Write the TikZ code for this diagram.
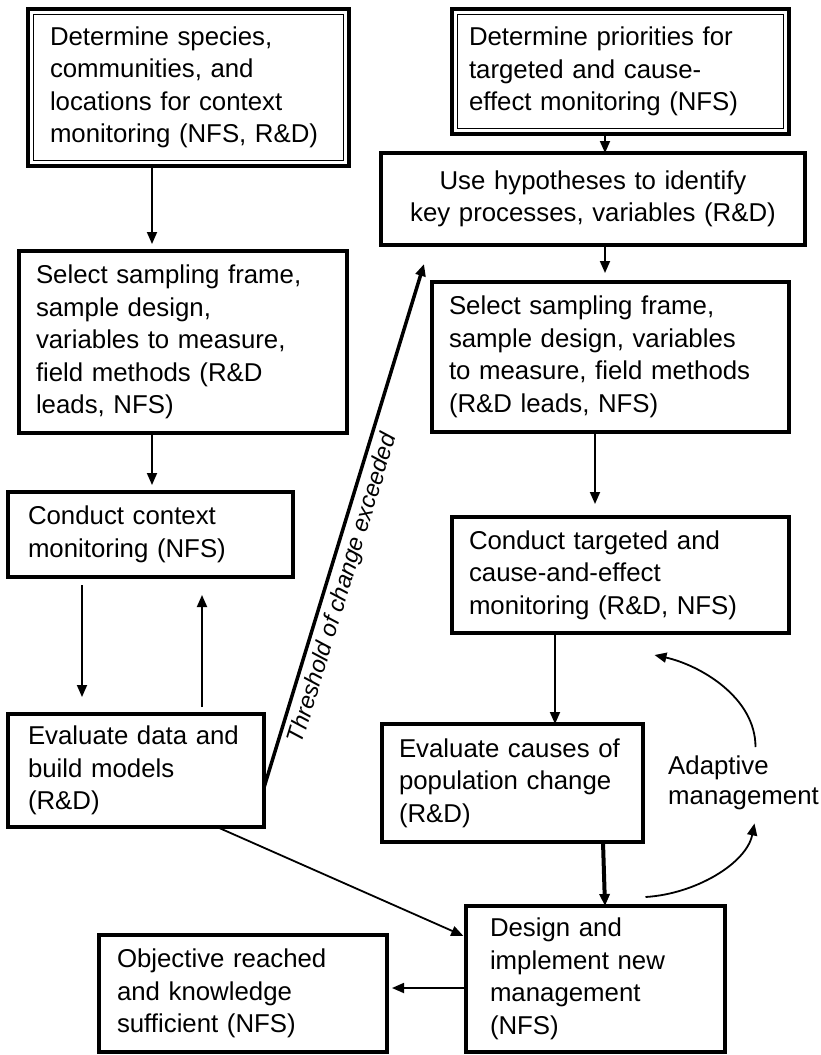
\documentclass[tikz,border=0pt]{standalone}
\usepackage{fontspec}
\setmainfont{Liberation Sans}
\usetikzlibrary{arrows.meta,calc}

\tikzset{
  box/.style={draw, line width=3.2pt, anchor=north west, outer sep=0pt,
    inner ysep=0pt, align=left, font=\fontsize{25.8}{32.5}\selectfont},
  dbox/.style={box, line width=4.5pt},
  inner rule/.style={line width=1.3pt},
  flow/.style={line width=1.8pt, -{Triangle[length=12pt,width=10pt]}},
  bold flow/.style={flow, line width=3.5pt},
}

\begin{document}
\begin{tikzpicture}[line cap=butt,line join=miter,x=1pt,y=-1pt]
    \useasboundingbox (0,0) rectangle (820,1055);

    % left column
    \node[dbox, minimum width=321pt, minimum height=157pt, text width=277pt, inner xsep=22pt] (species) at (28,9)
      {Determine species,\\communities, and\\locations for context\\monitoring (NFS, R\&D)};
    \draw[inner rule] ([shift={(5.5pt,-5.5pt)}]species.north west) rectangle ([shift={(-5.5pt,5.5pt)}]species.south east);
    \node[box, minimum width=328pt, minimum height=182pt, text width=294pt, inner xsep=17pt] (frameL) at (19,251)
      {Select sampling frame,\\sample design,\\variables to measure,\\field methods (R\&D\\leads, NFS)};
    \node[box, minimum width=285pt, minimum height=85pt, text width=245pt, inner xsep=20pt] (context) at (8,492)
      {Conduct context\\monitoring (NFS)};
    \node[box, minimum width=256pt, minimum height=113pt, text width=216pt, inner xsep=20pt] (evaluate) at (8,714)
      {Evaluate data and\\build models\\(R\&D)};
    \node[box, minimum width=288pt, minimum height=117pt, text width=252pt, inner xsep=18pt] (objective) at (99,935)
      {Objective reached\\and knowledge\\sufficient (NFS)};

    % right column
    \node[dbox, minimum width=337pt, minimum height=125pt, text width=303pt, inner xsep=17pt] (priorities) at (452,9)
      {Determine priorities for\\targeted and cause-\\effect monitoring (NFS)};
    \draw[inner rule] ([shift={(5.5pt,-5.5pt)}]priorities.north west) rectangle ([shift={(-5.5pt,5.5pt)}]priorities.south east);
    \node[box, align=center, minimum width=424pt, minimum height=92pt, text width=390pt, inner xsep=17pt] (hypo) at (381,153)
      {Use hypotheses to identify\\key processes, variables (R\&D)};
    \node[box, minimum width=357pt, minimum height=150pt, text width=323pt, inner xsep=17pt] (frameR) at (432,282)
      {Select sampling frame,\\sample design, variables\\to measure, field methods\\(R\&D leads, NFS)};
    \node[box, minimum width=337pt, minimum height=116pt, text width=303pt, inner xsep=17pt] (targeted) at (452,517)
      {Conduct targeted and\\cause-and-effect\\monitoring (R\&D, NFS)};
    \node[box, minimum width=261pt, minimum height=118pt, text width=227pt, inner xsep=17pt] (causes) at (382,724)
      {Evaluate causes of\\population change\\(R\&D)};
    \node[box, minimum width=259pt, minimum height=146pt, text width=211pt, inner xsep=24pt] (design) at (466,906)
      {Design and\\implement new\\management\\(NFS)};
    \node[anchor=north west, inner sep=0pt, align=left, font=\fontsize{25.8}{30}\selectfont] (adapt) at (668,756)
      {Adaptive\\management};

    % context monitoring loop
    \draw[flow, shorten >=7pt] ([xshift=124pt]species.south west) -- ([xshift=124pt]species.south west |- frameL.north);
    \draw[flow, shorten >=7pt] ([xshift=133pt]frameL.south west) -- ([xshift=133pt]frameL.south west |- context.north);
    \draw[flow, shorten <=8pt, shorten >=17pt] ([xshift=74pt]context.south west) -- ([xshift=74pt]evaluate.north west);
    \draw[flow, shorten <=7pt, shorten >=18pt] ([xshift=194pt]evaluate.north west) -- ([xshift=194pt]context.south west);
    \draw[bold flow] ([yshift=-17pt]evaluate.east) -- ([shift={(43pt,-19pt)}]hypo.south west)
      node[pos=0.39, sloped, below, inner sep=5pt, font=\fontsize{23.5}{28}\selectfont\itshape] {Threshold of change exceeded};
    \draw[flow, shorten >=3pt] ([xshift=209pt]evaluate.south west) -- ([yshift=-31pt]design.north west);
    \draw[flow, shorten >=5pt] ([yshift=-9pt]design.west) -- ([yshift=-9pt]design.west -| objective.east);

    % targeted monitoring chain
    \draw[flow] ([xshift=153pt]priorities.south west) -- ([xshift=153pt]priorities.south west |- hypo.north);
    \draw[flow, shorten >=9pt] ([xshift=224pt]hypo.south west) -- ([xshift=224pt]hypo.south west |- frameR.north);
    \draw[flow, shorten >=13pt] ([xshift=163pt]frameR.south west) -- ([xshift=163pt]frameR.south west |- targeted.north);
    \draw[flow] ([xshift=103pt]targeted.south west) -- ([xshift=103pt]targeted.south west |- causes.north);
    \draw[bold flow, line width=4pt] ([xshift=221pt]causes.south west) -- ([xshift=139pt]design.north west);

    % adaptive management
    \draw[flow] ([shift={(50pt,9pt)}]design.north) .. controls +(50,-3) and +(-8,40) .. ([shift={(11pt,-13pt)}]adapt.south);
    \draw[flow] ([shift={(12pt,9pt)}]adapt.north) .. controls +(0,-50) and +(45,10) .. ([shift={(34pt,-22pt)}]targeted.south);
\end{tikzpicture}
\end{document}
